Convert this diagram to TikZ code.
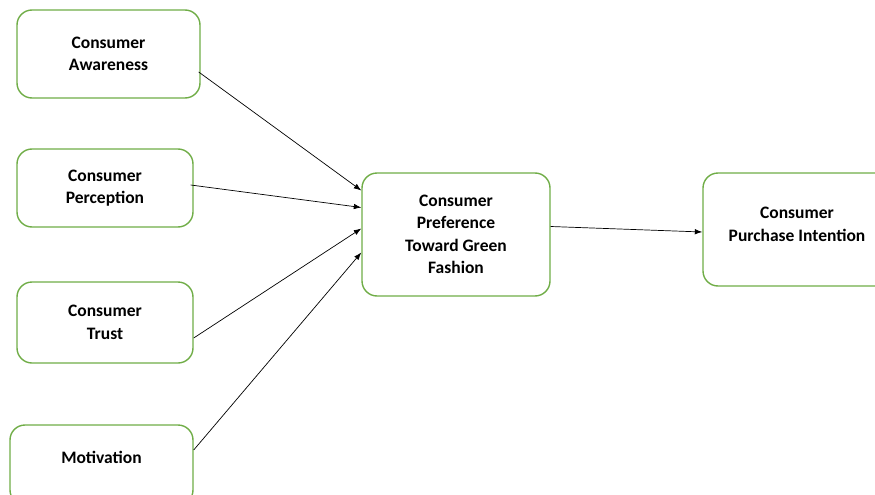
\documentclass[tikz,border=0pt]{standalone}
\usepackage{fontspec}
\setmainfont{Carlito}
\usetikzlibrary{arrows.meta}
\definecolor{boxgreen}{HTML}{70AD47}
\begin{document}
\begin{tikzpicture}[x=1pt,y=-1pt,
  boxtext/.style={align=center, font=\fontsize{17.5}{22.5}\selectfont\bfseries, inner sep=0pt},
  box/.style={draw=boxgreen, line width=1.4pt, rounded corners=15pt, fill=white, boxtext},
  conn/.style={draw=black, line width=0.7pt, -{Latex[length=7.5pt,width=5.5pt]}}]
\useasboundingbox (0,0) rectangle (875,495);
\clip (0,0) rectangle (875,495);
\node[box, minimum width=183pt, minimum height=88pt] (A) at (108.5,54) {Consumer\\Awareness};
\node[box, minimum width=176pt, minimum height=78pt] (P) at (105,188) {Consumer\\Perception};
\node[box, minimum width=176pt, minimum height=81pt] (T) at (105,322.5) {Consumer\\Trust};
\node[box, minimum width=183pt, minimum height=80pt,
  label={[boxtext, yshift=8pt]center:Motivation}] (M) at (101.5,465) {};
\node[box, minimum width=188pt, minimum height=123pt] (C) at (456,234.5) {Consumer\\Preference\\Toward Green\\Fashion};
\node[box, minimum width=188pt, minimum height=113pt,
  label={[boxtext, yshift=5pt, align=center]center:Consumer\\Purchase Intention}] (R) at (797,229.5) {};
\draw[conn] ([shift={(-2pt,-18pt)}]A.east) -- ([yshift=44pt]C.west);
\draw[conn] ([shift={(-3pt,3pt)}]P.east) -- ([yshift=27pt]C.west);
\draw[conn] ([yshift=-15.5pt]T.east) -- ([yshift=6pt]C.west);
\draw[conn] ([yshift=15pt]M.east) -- ([yshift=-18pt]C.west);
\draw[conn] ([yshift=8pt]C.east) -- ([yshift=-2.5pt]R.west);
\end{tikzpicture}
\end{document}
